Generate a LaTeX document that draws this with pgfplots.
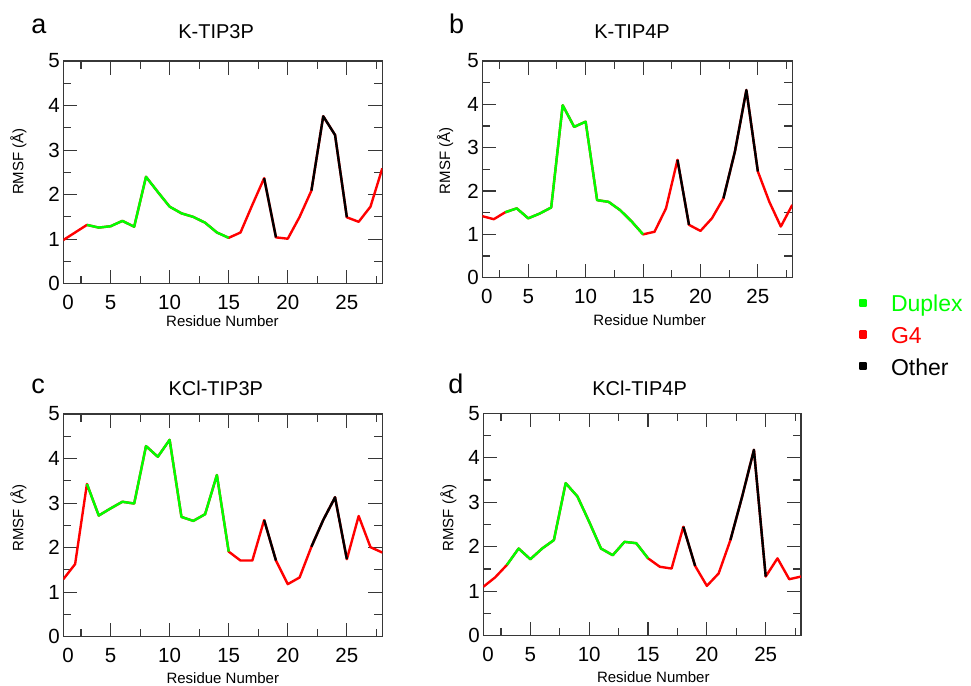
\documentclass[border=0pt]{standalone}
\usepackage{pgfplots}
\pgfplotsset{compat=1.18}
\usepackage{pgfplotstable}
\usepackage{fontspec}
\setmainfont{Liberation Sans}

\pgfplotstableread{
r y
1 0.98
2 1.15
3 1.32
4 1.26
5 1.29
6 1.41
7 1.28
8 2.40
9 2.06
10 1.73
11 1.58
12 1.50
13 1.37
14 1.15
15 1.03
16 1.15
17 1.77
18 2.37
19 1.04
20 1.01
21 1.50
22 2.09
23 3.76
24 3.34
25 1.49
26 1.39
27 1.73
28 2.59
}\dataA

\pgfplotstableread{
r y
1 1.42
2 1.35
3 1.51
4 1.60
5 1.37
6 1.48
7 1.62
8 3.98
9 3.48
10 3.60
11 1.79
12 1.75
13 1.56
14 1.30
15 1.00
16 1.06
17 1.60
18 2.72
19 1.22
20 1.08
21 1.37
22 1.83
23 2.91
24 4.33
25 2.45
26 1.75
27 1.18
28 1.68
}\dataB

\pgfplotstableread{
r y
1 1.29
2 1.63
3 3.43
4 2.72
5 2.88
6 3.03
7 2.99
8 4.28
9 4.04
10 4.42
11 2.69
12 2.60
13 2.75
14 3.63
15 1.91
16 1.71
17 1.71
18 2.62
19 1.71
20 1.18
21 1.33
22 2.02
23 2.62
24 3.13
25 1.74
26 2.71
27 2.01
28 1.89
}\dataC

\pgfplotstableread{
r y
1 1.10
2 1.31
3 1.59
4 1.96
5 1.72
6 1.96
7 2.15
8 3.43
9 3.13
10 2.56
11 1.96
12 1.81
13 2.11
14 2.08
15 1.74
16 1.55
17 1.51
18 2.45
19 1.57
20 1.12
21 1.40
22 2.15
23 3.13
24 4.18
25 1.33
26 1.74
27 1.27
28 1.33
}\dataD

\definecolor{axgray}{RGB}{55,55,55}

\pgfplotsset{
  rmsf/.style={
    scale only axis,
    xmin=1, xmax=28, ymin=0, ymax=5,
    xtick={5,10,15,20,25},
    minor xtick={2.5,7.5,12.5,17.5,22.5,27.5},
    ytick={0,1,2,3,4,5},
    minor ytick={0.5,1.5,2.5,3.5,4.5},
    extra x ticks={1.4}, extra x tick labels={0},
    extra x tick style={major tick length=0pt},
    tick align=inside, tick pos=both,
    major tick length=14pt, minor tick length=8pt,
    every tick/.style={line width=1.1pt, color=axgray},
    axis line style={line width=1.1pt, color=axgray},
    tick label style={font=\fontsize{20.5}{20.5}\selectfont},
    /pgf/number format/assume math mode=true,
    xticklabel style={yshift=-8pt},
    every axis x label/.style={anchor=center, font=\fontsize{15}{15}\selectfont},
    every axis y label/.style={anchor=center, rotate=90, font=\fontsize{15}{15}\selectfont},
    every axis title/.style={anchor=center, font=\fontsize{20}{20}\selectfont},
    xlabel={Residue Number},
    ylabel={RMSF (Å)},
    every axis plot/.append style={line width=2.4pt, line join=round, no marks},
  },
}

\newcommand{\segs}[1]{%
  \addplot[red, forget plot] table {#1};
  \addplot[green, forget plot, restrict x to domain=3:15] table {#1};
  \addplot[black, forget plot, restrict x to domain=18:19] table {#1};
  \addplot[black, forget plot, restrict x to domain=22:25] table {#1};
}

\begin{document}
\begin{tikzpicture}
\path[use as bounding box] (0,0) rectangle (971pt,-685pt);

\begin{axis}[rmsf, at={(63.3pt,-283.7pt)}, anchor=south west,
  width=319pt, height=222.7pt,
  title={K-TIP3P},
  title style={at={(axis description cs:0.479,1.132)}},
  xlabel style={at={(axis description cs:0.499,-0.166)}},
  ylabel style={at={(axis description cs:-0.141,0.548)}}]
\segs{\dataA}
\end{axis}

\begin{axis}[rmsf, at={(482.3pt,-277.7pt)}, anchor=south west,
  width=310pt, height=216.7pt,
  title={K-TIP4P},
  title style={at={(axis description cs:0.483,1.135)}},
  xlabel style={at={(axis description cs:0.540,-0.198)}},
  ylabel style={at={(axis description cs:-0.120,0.539)}},
  legend cell align=left,
  legend style={at={(axis description cs:1.214,-0.074)}, anchor=north west,
    draw=none, fill=none, inner sep=0pt, outer sep=0pt,
    column sep=22pt, row sep=7.7pt,
    nodes={inner xsep=2pt, inner ysep=2pt, text height=16pt, text depth=4pt,
      font=\fontsize{23}{23}\selectfont}},
  legend image code/.code={\fill[#1] (-3pt,0pt) rectangle (3pt,6pt);}]
\segs{\dataB}
\addlegendimage{green, fill=green}
\addlegendentry{\textcolor{green}{Duplex}}
\addlegendimage{red, fill=red}
\addlegendentry{\textcolor{red}{G4}}
\addlegendimage{black, fill=black}
\addlegendentry{\textcolor{black}{Other}}
\end{axis}

\begin{axis}[rmsf, at={(63.3pt,-636.7pt)}, anchor=south west,
  width=319pt, height=222.7pt,
  title={KCl-TIP3P},
  title style={at={(axis description cs:0.478,1.115)}},
  xlabel style={at={(axis description cs:0.5,-0.185)}},
  ylabel style={at={(axis description cs:-0.141,0.532)}}]
\segs{\dataC}
\end{axis}

\begin{axis}[rmsf, at={(483.3pt,-635.7pt)}, anchor=south west,
  width=317.7pt, height=222.4pt,
  title={KCl-TIP4P},
  title style={at={(axis description cs:0.492,1.112)}},
  xlabel style={at={(axis description cs:0.535,-0.188)}},
  ylabel style={at={(axis description cs:-0.110,0.528)}}]
\segs{\dataD}
\end{axis}

\node[anchor=base, font=\fontsize{27}{27}\selectfont] at (39pt,-33.3pt) {a};
\node[anchor=base, font=\fontsize{27}{27}\selectfont] at (456.7pt,-33.3pt) {b};
\node[anchor=base, font=\fontsize{27}{27}\selectfont] at (38pt,-393.3pt) {c};
\node[anchor=base, font=\fontsize{27}{27}\selectfont] at (456pt,-393.3pt) {d};
\end{tikzpicture}
\end{document}
